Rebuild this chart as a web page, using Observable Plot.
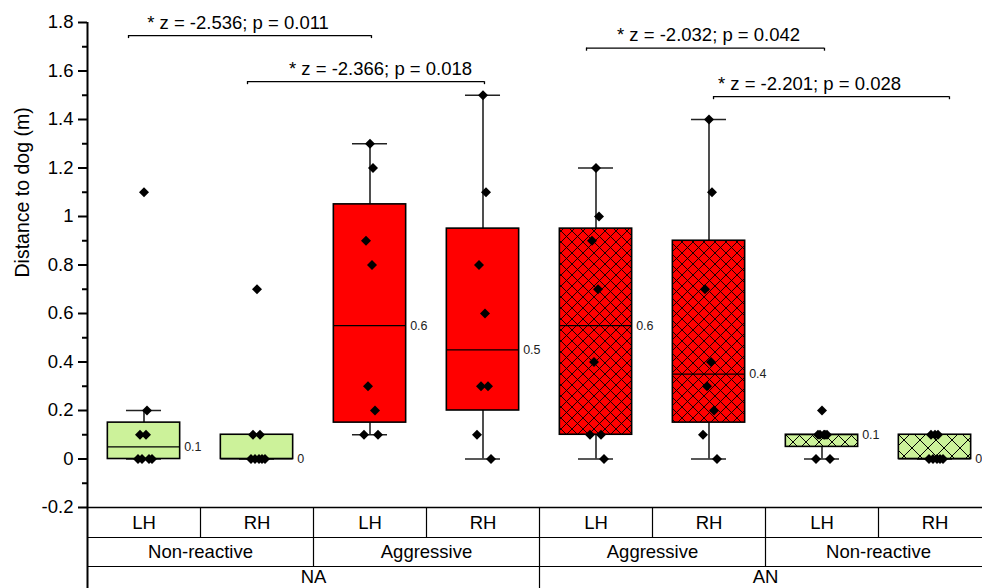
<!DOCTYPE html>
<html><head><meta charset="utf-8">
<script src="https://cdn.jsdelivr.net/npm/d3@7"></script>
<script src="https://cdn.jsdelivr.net/npm/@observablehq/plot@0.6"></script>
<style>
html,body{margin:0;padding:0;background:#fff;overflow:hidden;}
#chart{width:982px;height:588px;overflow:hidden;}
</style></head><body><div id="chart"></div>
<script>
// ---- data ----
const sides = ["LH","RH","LH","RH","LH","RH","LH","RH"];
const reactions = ["Non-reactive","Aggressive","Aggressive","Non-reactive"];
const orders = ["NA","AN"];

const naNonLH = [1.1, 0.2, 0.1, 0.1, 0, 0, 0, 0];
const naNonRH = [0.7, 0.1, 0.1, 0, 0, 0, 0, 0];
const naAggLH = [1.3, 1.2, 0.9, 0.8, 0.3, 0.2, 0.1, 0.1];
const naAggRH = [1.5, 1.1, 0.8, 0.6, 0.3, 0.3, 0.1, 0];
const anAggLH = [1.2, 1.0, 0.9, 0.7, 0.4, 0.1, 0.1, 0];
const anAggRH = [1.4, 1.1, 0.7, 0.4, 0.3, 0.2, 0.1, 0];
const anNonLH = [0.2, 0.1, 0.1, 0.1, 0.1, 0.1, 0, 0];
const anNonRH = [0.1, 0.1, 0.1, 0, 0, 0, 0, 0];

const yTicks = [-0.2, 0, 0.2, 0.4, 0.6, 0.8, 1, 1.2, 1.4, 1.6, 1.8];
const yMinor = [-0.1, 0.1, 0.3, 0.5, 0.7, 0.9, 1.1, 1.3, 1.5, 1.7];

const bracketLabels = ["* z = -2.536; p = 0.011", "* z = -2.366; p = 0.018", "* z = -2.032; p = 0.042", "* z = -2.201; p = 0.028"];
const bracketFrom  = [-0.137, 0.916, 3.916, 5.04];
const bracketTo    = [2.013, 3.013, 6.022, 7.128];
const bracketLevel = [1.746, 1.556, 1.694, 1.494];
const bracketTextAt = [0.832, 2.093, 4.996, 5.889];

// ---- styling ----
const GREEN = "#ccf29a", RED = "#ff0000";
const groupValues = [naNonLH, naNonRH, naAggLH, naAggRH, anAggLH, anAggRH, anNonLH, anNonRH];
const groupFill = [GREEN, GREEN, RED, RED, "url(#hatchRed)", "url(#hatchRed)", "url(#hatchGreenA)", "url(#hatchGreenB)"];
const BW = 0.32, CAP = 0.155, BAND_PX = 113;
const jitterPx = [0, 3, -4, 2, -2, 5, -6, 8];

function hingeStats(vals) {
  const s = vals.slice().sort((a, b) => a - b);
  const n = s.length, h = Math.floor(n / 2);
  const lower = s.slice(0, h), upper = s.slice(n - h);
  const q1 = d3.median(lower), q3 = d3.median(upper), med = d3.median(s);
  const iqr = q3 - q1;
  const lo = d3.min(s.filter(v => v >= q1 - 1.5 * iqr - 1e-9));
  const hi = d3.max(s.filter(v => v <= q3 + 1.5 * iqr + 1e-9));
  return {q1, q3, med, lo, hi};
}
const stats = groupValues.map((vals, i) => ({i, fill: groupFill[i], ...hingeStats(vals)}));
const points = groupValues.flatMap((vals, i) => vals.map((v, k) => ({x: i + jitterPx[k % jitterPx.length] / BAND_PX, y: v})));
const fmtMed = v => String(Math.round(v * 10 + 1e-9) / 10);
const fmtTick = v => String(Math.round(v * 10) / 10);

// scale geometry
const YD = [-0.2, 1.8], YR = [507, 22];
const perPx = (YD[1] - YD[0]) / (YR[0] - YR[1]);
const below = px => YD[0] - px * perPx;

const brackets = bracketLabels.map((label, k) => ({label, from: bracketFrom[k], to: bracketTo[k], level: bracketLevel[k], at: bracketTextAt[k]}));

function defsMark() {
  const ns = "http://www.w3.org/2000/svg";
  const defs = document.createElementNS(ns, "defs");
  function pat(id, s, bg, w) {
    const p = document.createElementNS(ns, "pattern");
    p.setAttribute("id", id);
    p.setAttribute("patternUnits", "userSpaceOnUse");
    p.setAttribute("width", s); p.setAttribute("height", s);
    const r = document.createElementNS(ns, "rect");
    r.setAttribute("width", s); r.setAttribute("height", s); r.setAttribute("fill", bg);
    p.appendChild(r);
    const path = document.createElementNS(ns, "path");
    path.setAttribute("d", `M0,0L${s},${s}M0,${s}L${s},0M${-s/2},${s/2}L${s/2},${3*s/2}M${s/2},${-s/2}L${3*s/2},${s/2}`);
    path.setAttribute("stroke", "#000"); path.setAttribute("stroke-width", w); path.setAttribute("fill", "none");
    p.appendChild(path);
    defs.appendChild(p);
  }
  pat("hatchRed", 11, RED, 0.9);
  pat("hatchGreenA", 13, GREEN, 1);
  pat("hatchGreenB", 16, GREEN, 1);
  return defs;
}

const row1Seps = d3.range(0.5, 7, 1);
const row2Seps = [1.5, 3.5, 5.5];
const row3Seps = [3.5];

const marks = [
  defsMark,
  // table
  Plot.ruleY([YD[0]], {x1: -0.5, x2: 7.5, stroke: "#000", strokeWidth: 1.5}),
  Plot.ruleY([below(30), below(59)], {x1: -0.5, x2: 7.5, stroke: "#000", strokeWidth: 1.2}),
  Plot.ruleX(row1Seps, {x: d => d, y1: below(0), y2: below(30), stroke: "#000", strokeWidth: 1.2}),
  Plot.ruleX(row2Seps, {x: d => d, y1: below(30), y2: below(59), stroke: "#000", strokeWidth: 1.2}),
  Plot.ruleX(row3Seps, {x: d => d, y1: below(59), y2: below(100), stroke: "#000", strokeWidth: 1.2}),
  Plot.text(sides, {x: (d, i) => i, y: below(15.5), text: d => d, fontSize: 18.5, fill: "#000"}),
  Plot.text(reactions, {x: (d, i) => 2 * i + 0.5, y: below(44.5), text: d => d, fontSize: 18.5, fill: "#000"}),
  Plot.text(orders, {x: (d, i) => 4 * i + 1.5, y: below(70), text: d => d, fontSize: 18.5, fill: "#000"}),
  // y axis
  Plot.ruleX([-0.5], {y1: YD[1], y2: below(100), stroke: "#000", strokeWidth: 2}),
  Plot.axisY({ticks: yTicks, tickSize: 9, tickPadding: 5, tickFormat: fmtTick, fontSize: 18.5, stroke: "#000", strokeWidth: 2, label: null, color: "#000"}),
  Plot.axisY({ticks: yMinor, tickSize: 5, tickFormat: () => "", stroke: "#000", strokeWidth: 2, label: null}),
  Plot.text(["Distance to dog (m)"], {frameAnchor: "left", dx: -65, dy: 12.5, rotate: -90, fontSize: 19.5, fill: "#000"}),
  // whiskers
  Plot.ruleX(stats, {x: "i", y1: "q3", y2: "hi", stroke: "#222", strokeWidth: 1.6}),
  Plot.ruleX(stats, {x: "i", y1: "lo", y2: "q1", stroke: "#222", strokeWidth: 1.6}),
  Plot.ruleY(stats, {y: "hi", x1: d => d.i - CAP, x2: d => d.i + CAP, stroke: "#222", strokeWidth: 1.6}),
  Plot.ruleY(stats, {y: "lo", x1: d => d.i - CAP, x2: d => d.i + CAP, stroke: "#222", strokeWidth: 1.6}),
  // boxes
  ...stats.map(s => Plot.rect([s], {x1: d => d.i - BW, x2: d => d.i + BW, y1: "q1", y2: "q3", fill: s.fill, stroke: "#000", strokeWidth: 1.6})),
  Plot.ruleY(stats, {y: "med", x1: d => d.i - BW, x2: d => d.i + BW, stroke: "#000", strokeWidth: 1.1}),
  Plot.text(stats, {x: d => d.i + BW, y: "med", text: d => fmtMed(d.med), dx: 4, textAnchor: "start", fontSize: 12.5, fill: "#222"}),
  // points
  Plot.dot(points, {x: "x", y: "y", symbol: "diamond2", r: 4.5, fill: "#000", stroke: null}),
  // significance brackets
  Plot.ruleY(brackets, {y: "level", x1: "from", x2: "to", stroke: "#000", strokeWidth: 1.3}),
  Plot.ruleX(brackets, {x: "from", y1: "level", y2: d => d.level - 3 * perPx, stroke: "#000", strokeWidth: 1.3}),
  Plot.ruleX(brackets, {x: "to", y1: "level", y2: d => d.level - 3 * perPx, stroke: "#000", strokeWidth: 1.3}),
  Plot.text(brackets, {x: "at", y: "level", text: "label", dy: -13, fontSize: 18.5, fill: "#000"})
];

const chart = Plot.plot({
  width: 982,
  height: 588,
  marginLeft: 87, marginRight: 0, marginTop: 22, marginBottom: 81,
  x: {domain: [-0.5, 7.5], range: [87, 991], axis: null},
  y: {domain: YD, range: YR},
  style: {fontFamily: "'Liberation Sans', Arial, sans-serif", fontSize: "18px", background: "white", color: "#000", overflow: "hidden"},
  marks
});
document.getElementById("chart").appendChild(chart);
</script>
</body></html>
